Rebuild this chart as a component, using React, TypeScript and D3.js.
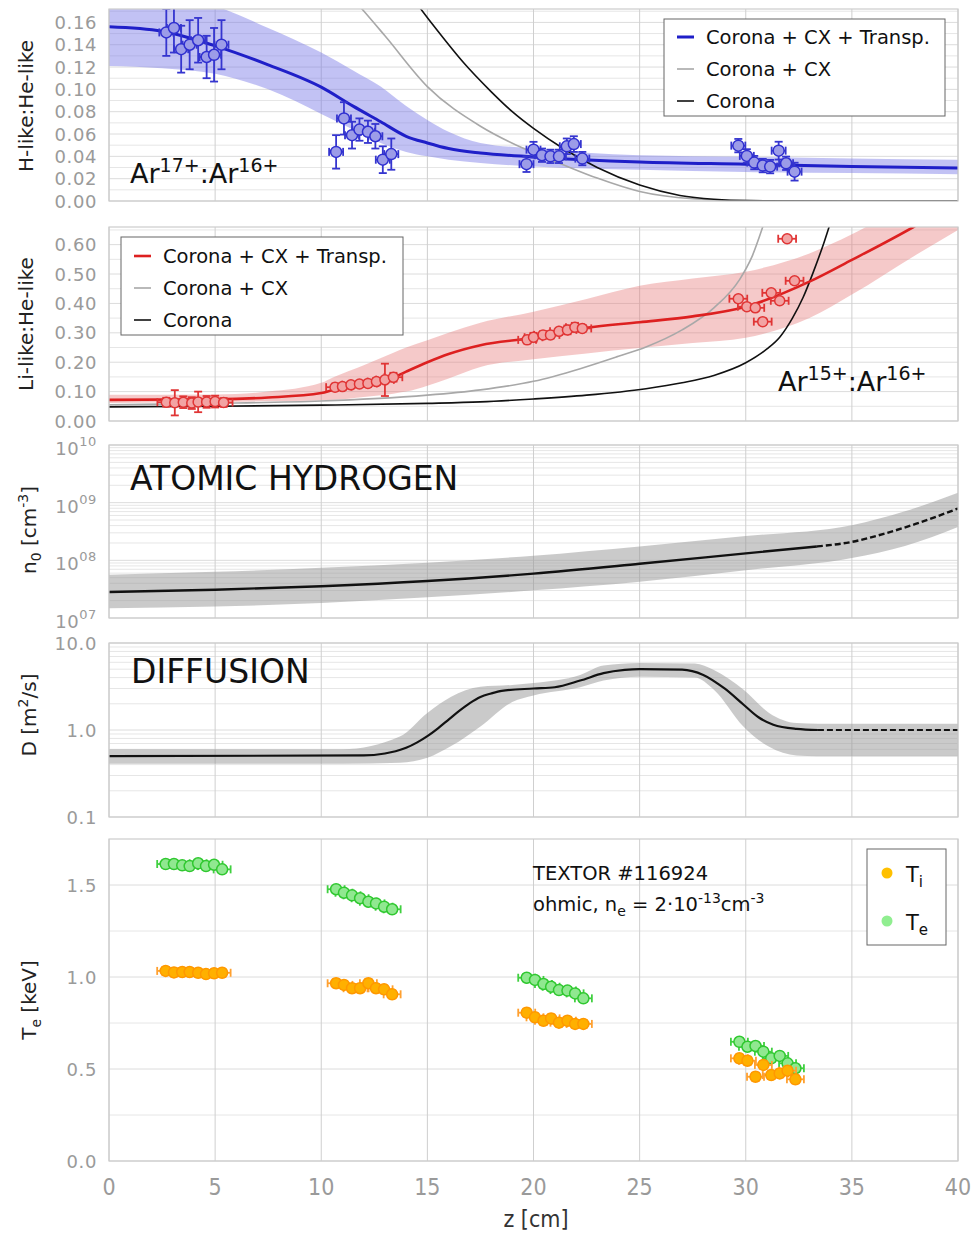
import React from "react";
import * as d3 from "d3";

// ---------------- shared x axis ----------------
const zTicks = [0, 5, 10, 15, 20, 25, 30, 35, 40];

// ---------------- panel 1: H-like : He-like ----------------
const hModelZ = [0, 2.5, 5, 7.5, 10, 11.5, 12.8, 14, 15, 16, 17.5, 20, 25, 30, 35, 40];
const hTransp = [0.156, 0.152, 0.139, 0.122, 0.102, 0.085, 0.071, 0.058, 0.052, 0.047, 0.043, 0.0395, 0.035, 0.033, 0.031, 0.0295];
const hTranspHi = [0.2, 0.19, 0.175, 0.155, 0.133, 0.117, 0.1025, 0.085, 0.0726, 0.062, 0.052, 0.047, 0.041, 0.0397, 0.038, 0.037];
const hTranspLo = [0.121, 0.119, 0.114, 0.1, 0.078, 0.064, 0.052, 0.044, 0.04, 0.037, 0.034, 0.031, 0.028, 0.026, 0.025, 0.024];
const hCxZ = [11.5, 11.92, 13, 15, 17.5, 19.2, 20.5, 21.4, 23, 25, 27.5, 30, 35, 40];
const hCx = [0.181, 0.172, 0.148, 0.1025, 0.067, 0.05, 0.0395, 0.0325, 0.0205, 0.0085, 0.002, 0.0003, 0, 0];
const hCoronaZ = [14.3, 14.65, 15.5, 16.7, 18, 19, 20, 21.4, 23, 25, 26.9, 28.5, 30, 35, 40];
const hCorona = [0.182, 0.173, 0.152, 0.124, 0.098, 0.08, 0.065, 0.047, 0.03, 0.0143, 0.005, 0.0015, 0.0003, 0, 0];
const hDataZ = [2.7, 3.06, 3.4, 3.8, 4.2, 4.6, 4.95, 5.3, 10.7, 11.07, 11.45, 11.8, 12.2, 12.55, 12.9, 13.3, 19.67, 20.0, 20.4, 20.8, 21.2, 21.57, 21.9, 22.3, 29.65, 30.05, 30.4, 30.8, 31.15, 31.55, 31.9, 32.3];
const hDataV = [0.151, 0.155, 0.136, 0.14, 0.144, 0.129, 0.131, 0.14, 0.044, 0.074, 0.059, 0.064, 0.062, 0.058, 0.037, 0.042, 0.033, 0.046, 0.041, 0.04, 0.04, 0.049, 0.051, 0.038, 0.0496, 0.0404, 0.0344, 0.0317, 0.0308, 0.0451, 0.0338, 0.0263];
const hDataErr = [0.021, 0.022, 0.021, 0.022, 0.02, 0.019, 0.024, 0.022, 0.015, 0.0145, 0.012, 0.01, 0.01, 0.011, 0.012, 0.014, 0.007, 0.007, 0.006, 0.006, 0.006, 0.007, 0.007, 0.006, 0.006, 0.006, 0.006, 0.006, 0.006, 0.008, 0.006, 0.008];
const hTicks = [0, 0.02, 0.04, 0.06, 0.08, 0.1, 0.12, 0.14, 0.16];
const hMinor = [0.01, 0.03, 0.05, 0.07, 0.09, 0.11, 0.13, 0.15, 0.17];

// ---------------- panel 2: Li-like : He-like ----------------
const lModelZ = [0, 5, 7.5, 10, 10.6, 12, 13.4, 14, 15, 16, 17.5, 20, 22.5, 25, 27.5, 30, 33, 35, 37.9, 40];
const lTransp = [0.072, 0.074, 0.08, 0.095, 0.106, 0.12, 0.148, 0.168, 0.2, 0.228, 0.258, 0.283, 0.317, 0.336, 0.356, 0.389, 0.474, 0.548, 0.66, 0.75];
const lTranspHi = [0.089, 0.09, 0.1, 0.13, 0.15, 0.19, 0.232, 0.25, 0.275, 0.3, 0.334, 0.372, 0.415, 0.46, 0.485, 0.508, 0.57, 0.635, 0.75, 0.82];
const lTranspLo = [0.061, 0.065, 0.067, 0.07, 0.072, 0.082, 0.093, 0.1, 0.12, 0.145, 0.184, 0.21, 0.23, 0.248, 0.265, 0.283, 0.35, 0.43, 0.56, 0.65];
const lCxZ = [0, 5, 10, 12.5, 15, 17.5, 20, 22.2, 24, 25.3, 27, 28.5, 29.7, 30.3, 30.8, 31.2];
const lCx = [0.055, 0.06, 0.068, 0.076, 0.088, 0.106, 0.135, 0.178, 0.22, 0.252, 0.31, 0.385, 0.48, 0.56, 0.66, 0.75];
const lCoronaZ = [0, 5, 10, 15, 17.5, 20, 22.5, 25.3, 27, 28.5, 30, 31, 31.6, 32.2, 32.7, 33.2, 33.7, 34.1];
const lCorona = [0.048, 0.05, 0.054, 0.06, 0.065, 0.075, 0.088, 0.11, 0.13, 0.155, 0.198, 0.245, 0.285, 0.35, 0.42, 0.51, 0.61, 0.7];
const lDataZ = [2.7, 3.1, 3.5, 3.9, 4.2, 4.6, 5.0, 5.4, 10.65, 11.0, 11.4, 11.8, 12.2, 12.6, 13.0, 13.4, 19.7, 20.0, 20.45, 20.8, 21.2, 21.6, 21.95, 22.3, 29.65, 30.05, 30.45, 30.8, 31.2, 31.6, 31.95, 32.3];
const lDataV = [0.064, 0.062, 0.064, 0.061, 0.065, 0.065, 0.066, 0.063, 0.115, 0.117, 0.123, 0.126, 0.128, 0.134, 0.14, 0.149, 0.276, 0.285, 0.293, 0.293, 0.305, 0.31, 0.319, 0.315, 0.416, 0.389, 0.385, 0.338, 0.436, 0.409, 0.62, 0.477];
const lDataErr = [0.015, 0.043, 0.02, 0.02, 0.035, 0.02, 0.02, 0.015, 0.012, 0.01, 0.01, 0.01, 0.012, 0.012, 0.055, 0.015, 0.012, 0.015, 0.012, 0.012, 0.012, 0.015, 0.015, 0.012, 0.01, 0.01, 0.01, 0.01, 0.01, 0.01, 0.01, 0.01];
const lTicks = [0, 0.1, 0.2, 0.3, 0.4, 0.5, 0.6];
const lMinor = [0.05, 0.15, 0.25, 0.35, 0.45, 0.55, 0.65];

// ---------------- panel 3: atomic hydrogen n0 ----------------
const nZ = [0, 5, 10, 15, 20, 25, 30, 33.35];
const nSolid = [2.82e7, 3.09e7, 3.55e7, 4.37e7, 5.89e7, 8.71e7, 1.32e8, 1.74e8];
const nDashZ = [33.35, 35, 36.5, 38, 39, 40];
const nDash = [1.74e8, 2.09e8, 2.88e8, 4.27e8, 5.75e8, 7.94e8];
const nBandZ = [0, 5, 10, 15, 20, 25, 30, 35, 37.5, 40];
const nBandHi = [5.62e7, 6.31e7, 7.41e7, 9.12e7, 1.2e8, 1.74e8, 2.63e8, 4.07e8, 7.08e8, 1.48e9];
const nBandLo = [1.48e7, 1.58e7, 1.82e7, 2.29e7, 3.02e7, 4.27e7, 6.76e7, 1.1e8, 1.78e8, 3.8e8];
const nTicks = [1e7, 1e8, 1e9, 1e10];
const nTickExp = ["07", "08", "09", "10"];

// ---------------- panel 4: diffusion D ----------------
const dZ = [0, 12, 13, 13.5, 14, 14.5, 15, 15.5, 16, 16.5, 17, 17.5, 18, 18.5, 20, 21, 22.2, 23.3, 24.3, 25, 27, 28, 29, 29.9, 30.6, 31.3, 32.4, 33.4];
const dSolid = [0.5, 0.51, 0.537, 0.569, 0.624, 0.716, 0.851, 1.047, 1.318, 1.66, 2.04, 2.4, 2.63, 2.82, 3.0, 3.1, 3.7, 4.5, 4.9, 5.0, 4.95, 4.3, 3.0, 1.95, 1.4, 1.15, 1.03, 1.0];
const dDashZ = [33.4, 40];
const dDash = [1.0, 1.0];
const dBandZ = [0, 11, 13.7, 15, 16.1, 17.5, 19, 20, 22.2, 23.3, 25, 27.6, 28.5, 29.9, 31.1, 32.4, 33.4, 40];
const dBandHi = [0.6, 0.6, 0.84, 1.57, 2.4, 3.14, 3.3, 3.47, 4.3, 5.5, 5.9, 5.8, 4.9, 2.9, 1.57, 1.2, 1.18, 1.18];
const dBandLo = [0.41, 0.41, 0.42, 0.48, 0.65, 1.1, 2.1, 2.5, 3.1, 3.7, 4.1, 4.0, 2.9, 1.09, 0.64, 0.51, 0.5, 0.5];
const dTicks = [0.1, 1, 10];
const dTickLabels = ["0.1", "1.0", "10.0"];

// ---------------- panel 5: temperatures ----------------
const tZ = [2.67, 3.06, 3.45, 3.8, 4.2, 4.57, 4.95, 5.33, 10.7, 11.07, 11.45, 11.83, 12.22, 12.58, 12.96, 13.34, 19.68, 20.07, 20.47, 20.83, 21.2, 21.6, 21.96, 22.35, 29.7, 30.08, 30.46, 30.83, 31.2, 31.6, 31.97, 32.34];
const teV = [1.614, 1.614, 1.607, 1.603, 1.618, 1.603, 1.61, 1.585, 1.477, 1.458, 1.444, 1.428, 1.409, 1.4, 1.382, 1.368, 0.996, 0.984, 0.962, 0.947, 0.929, 0.926, 0.911, 0.884, 0.648, 0.621, 0.625, 0.594, 0.558, 0.571, 0.531, 0.504];
const tiV = [1.033, 1.025, 1.027, 1.027, 1.023, 1.016, 1.02, 1.023, 0.966, 0.957, 0.939, 0.939, 0.966, 0.939, 0.933, 0.906, 0.806, 0.781, 0.762, 0.775, 0.752, 0.762, 0.745, 0.745, 0.558, 0.545, 0.458, 0.522, 0.467, 0.476, 0.491, 0.444];
const tTicks = [0, 0.5, 1.0, 1.5];
const tMinor = [0.25, 0.75, 1.25];

const LEFT = 109;
const RIGHT = 958;
const FONT = "'DejaVu Sans', Verdana, sans-serif";
const NARROW = "'Liberation Sans Narrow', 'DejaVu Sans Condensed', sans-serif";
const TICK_COLOR = "#9a9a9a";

const x = d3.scaleLinear().domain([0, 40]).range([LEFT, RIGHT]);

function linePath(zs: number[], vs: number[], y: any) {
  return d3
    .line<number>()
    .x((_, i) => x(zs[i]))
    .y((d) => y(d))
    .curve(d3.curveMonotoneX)(vs) as string;
}
function areaPath(zs: number[], lo: number[], hi: number[], y: any) {
  return d3
    .area<number>()
    .x((_, i) => x(zs[i]))
    .y0((_, i) => y(lo[i]))
    .y1((d) => y(d))
    .curve(d3.curveMonotoneX)(hi) as string;
}

function logMinor(lo: number, hi: number) {
  const out: number[] = [];
  for (let e = Math.log10(lo); e < Math.log10(hi); e++) {
    for (let k = 2; k <= 9; k++) out.push(k * Math.pow(10, e));
  }
  return out;
}

function Frame({ id, y, top, bottom, major, minor }: any) {
  return (
    <g>
      <defs>
        <clipPath id={id}>
          <rect x={LEFT} y={top} width={RIGHT - LEFT} height={bottom - top} />
        </clipPath>
      </defs>
      <rect x={LEFT} y={top} width={RIGHT - LEFT} height={bottom - top} fill="#fff" />
      {minor.map((v: number, i: number) => (
        <line key={"mi" + i} x1={LEFT} x2={RIGHT} y1={y(v)} y2={y(v)} stroke="#e6e6e6" strokeWidth={1} />
      ))}
      {major.map((v: number, i: number) => (
        <line key={"ma" + i} x1={LEFT} x2={RIGHT} y1={y(v)} y2={y(v)} stroke="#dcdcdc" strokeWidth={1} />
      ))}
      {zTicks.map((z) => (
        <line key={"v" + z} x1={x(z)} x2={x(z)} y1={top} y2={bottom} stroke="#cfcfcf" strokeWidth={1} />
      ))}
    </g>
  );
}

function Border({ top, bottom }: any) {
  return <rect x={LEFT} y={top} width={RIGHT - LEFT} height={bottom - top} fill="none" stroke="#cccccc" strokeWidth={1.2} />;
}

function Points({ zs, vs, ey, ex, y, fill, stroke, bar, r }: any) {
  return (
    <g>
      {zs.map((z: number, i: number) => {
        const cx = x(z);
        const cy = y(vs[i]);
        const yT = y(vs[i] + ey[i]);
        const yB = y(vs[i] - ey[i]);
        const xL = x(z - ex);
        const xR = x(z + ex);
        return (
          <g key={i}>
            <line x1={cx} x2={cx} y1={yT} y2={yB} stroke={bar} strokeWidth={1.8} />
            <line x1={cx - 4} x2={cx + 4} y1={yT} y2={yT} stroke={bar} strokeWidth={1.8} />
            <line x1={cx - 4} x2={cx + 4} y1={yB} y2={yB} stroke={bar} strokeWidth={1.8} />
            <line x1={xL} x2={xR} y1={cy} y2={cy} stroke={bar} strokeWidth={1.8} />
            <line x1={xL} x2={xL} y1={cy - 4} y2={cy + 4} stroke={bar} strokeWidth={1.8} />
            <line x1={xR} x2={xR} y1={cy - 4} y2={cy + 4} stroke={bar} strokeWidth={1.8} />
          </g>
        );
      })}
      {zs.map((z: number, i: number) => (
        <circle key={"c" + i} cx={x(z)} cy={y(vs[i])} r={r} fill={fill} stroke={stroke} strokeWidth={1.5} />
      ))}
    </g>
  );
}

function YLabels({ y, ticks, fmt }: any) {
  return (
    <g fontFamily={FONT} fontSize={18} fill={TICK_COLOR} textAnchor="end" letterSpacing={0.6}>
      {ticks.map((v: number, i: number) => (
        <text key={i} x={LEFT - 12} y={y(v) + 6.5}>
          {fmt(v, i)}
        </text>
      ))}
    </g>
  );
}

function Legend({ x0, y0, w, h, rows, lx }: any) {
  return (
    <g>
      <rect x={x0} y={y0} width={w} height={h} fill="#fff" stroke="#666" strokeWidth={1} />
      {rows.map((r: any, i: number) => (
        <g key={i}>
          <line x1={lx} x2={lx + 17} y1={r.y} y2={r.y} stroke={r.color} strokeWidth={r.w} />
          <text x={lx + 29} y={r.y + 7} fontFamily={FONT} fontSize={19.5} fill="#111">
            {r.label}
          </text>
        </g>
      ))}
    </g>
  );
}

export default function App() {
  const y1 = d3.scaleLinear().domain([0, 0.172]).range([201, 9]);
  const y2 = d3.scaleLinear().domain([0, 0.66]).range([421, 227]);
  const y3 = d3.scaleLog().domain([1e7, 1e10]).range([618, 445]);
  const y4 = d3.scaleLog().domain([0.1, 10]).range([817, 643]);
  const y5 = d3.scaleLinear().domain([0, 1.75]).range([1161, 839]);

  const blueBand = "rgba(120,120,230,0.45)";
  const redBand = "rgba(230,120,120,0.4)";

  return (
    <svg width={971} height={1235} style={{ position: "absolute", left: 0, top: 0, background: "#fff" }}>
      {/* ============ Panel 1 ============ */}
      <Frame id="c1" y={y1} top={9} bottom={201} major={hTicks} minor={hMinor} />
      <g clipPath="url(#c1)">
        <path d={areaPath(hModelZ, hTranspLo, hTranspHi, y1)} fill={blueBand} />
        <path d={linePath(hCxZ, hCx, y1)} fill="none" stroke="#a8a8a8" strokeWidth={1.6} />
        <path d={linePath(hCoronaZ, hCorona, y1)} fill="none" stroke="#111" strokeWidth={1.6} />
        <path d={linePath(hModelZ, hTransp, y1)} fill="none" stroke="#1f1fc8" strokeWidth={3} />
        <Points zs={hDataZ} vs={hDataV} ey={hDataErr} ex={0.33} y={y1} fill="#9c9ce8" stroke="#3030d0" bar="#3535cf" r={5.5} />
      </g>
      <Border top={9} bottom={201} />
      <YLabels y={y1} ticks={hTicks} fmt={(v: number) => v.toFixed(2)} />
      <Legend
        x0={664}
        y0={19}
        w={281}
        h={97}
        lx={677}
        rows={[
          { y: 37, color: "#1f1fc8", w: 3, label: "Corona + CX + Transp." },
          { y: 69, color: "#a8a8a8", w: 1.6, label: "Corona + CX" },
          { y: 101, color: "#111", w: 1.6, label: "Corona" },
        ]}
      />
      <text x={130} y={183} fontFamily={FONT} fontSize={27} fill="#111">
        Ar<tspan fontSize={19} dy={-11}>17+</tspan>
        <tspan dy={11}>:Ar</tspan>
        <tspan fontSize={19} dy={-11}>16+</tspan>
      </text>
      <text transform="translate(33,106) rotate(-90)" textAnchor="middle" fontFamily={FONT} fontSize={20} fill="#222">
        H-like:He-like
      </text>

      {/* ============ Panel 2 ============ */}
      <Frame id="c2" y={y2} top={227} bottom={421} major={lTicks} minor={lMinor} />
      <g clipPath="url(#c2)">
        <path d={areaPath(lModelZ, lTranspLo, lTranspHi, y2)} fill={redBand} />
        <path d={linePath(lCxZ, lCx, y2)} fill="none" stroke="#a8a8a8" strokeWidth={1.6} />
        <path d={linePath(lCoronaZ, lCorona, y2)} fill="none" stroke="#111" strokeWidth={1.6} />
        <path d={linePath(lModelZ, lTransp, y2)} fill="none" stroke="#dd2020" strokeWidth={2.6} />
        <Points zs={lDataZ} vs={lDataV} ey={lDataErr} ex={0.42} y={y2} fill="#f2a3a3" stroke="#e03535" bar="#e03535" r={5} />
      </g>
      <Border top={227} bottom={421} />
      <YLabels y={y2} ticks={lTicks} fmt={(v: number) => v.toFixed(2)} />
      <Legend
        x0={121}
        y0={237}
        w={282}
        h={98}
        lx={134}
        rows={[
          { y: 256, color: "#dd2020", w: 2.6, label: "Corona + CX + Transp." },
          { y: 288, color: "#a8a8a8", w: 1.6, label: "Corona + CX" },
          { y: 320, color: "#111", w: 1.6, label: "Corona" },
        ]}
      />
      <text x={778} y={391} fontFamily={FONT} fontSize={27} fill="#111">
        Ar<tspan fontSize={19} dy={-11}>15+</tspan>
        <tspan dy={11}>:Ar</tspan>
        <tspan fontSize={19} dy={-11}>16+</tspan>
      </text>
      <text transform="translate(33,324) rotate(-90)" textAnchor="middle" fontFamily={FONT} fontSize={20} fill="#222">
        Li-like:He-like
      </text>

      {/* ============ Panel 3 ============ */}
      <Frame id="c3" y={y3} top={445} bottom={618} major={nTicks} minor={logMinor(1e7, 1e10)} />
      <g clipPath="url(#c3)">
        <path d={areaPath(nBandZ, nBandLo, nBandHi, y3)} fill="rgba(150,150,150,0.5)" />
        <path d={linePath(nZ, nSolid, y3)} fill="none" stroke="#111" strokeWidth={2.4} />
        <path d={linePath(nDashZ, nDash, y3)} fill="none" stroke="#111" strokeWidth={2.4} strokeDasharray="6,3" />
      </g>
      <Border top={445} bottom={618} />
      <g fontFamily={FONT} fontSize={18} fill={TICK_COLOR} textAnchor="end" letterSpacing={0.6}>
        {nTicks.map((v, i) => (
          <text key={i} x={LEFT - 12} y={y3(v) + 10}>
            10<tspan fontSize={13} dy={-9}>{nTickExp[i]}</tspan>
          </text>
        ))}
      </g>
      <text x={130} y={490} fontFamily={FONT} fontSize={33} fill="#111">
        ATOMIC HYDROGEN
      </text>
      <text transform="translate(36,530) rotate(-90)" textAnchor="middle" fontFamily={FONT} fontSize={20} fill="#222">
        n<tspan fontSize={14} dy={5}>0</tspan>
        <tspan dy={-5}>{"  [cm"}</tspan>
        <tspan fontSize={14} dy={-8}>-3</tspan>
        <tspan dy={8}>]</tspan>
      </text>

      {/* ============ Panel 4 ============ */}
      <Frame id="c4" y={y4} top={643} bottom={817} major={dTicks} minor={logMinor(0.1, 10)} />
      <g clipPath="url(#c4)">
        <path d={areaPath(dBandZ, dBandLo, dBandHi, y4)} fill="rgba(150,150,150,0.5)" />
        <path d={linePath(dZ, dSolid, y4)} fill="none" stroke="#111" strokeWidth={2.2} />
        <path d={linePath(dDashZ, dDash, y4)} fill="none" stroke="#111" strokeWidth={2.2} strokeDasharray="6,3" />
      </g>
      <Border top={643} bottom={817} />
      <YLabels y={y4} ticks={dTicks} fmt={(_: number, i: number) => dTickLabels[i]} />
      <text x={131} y={683} fontFamily={FONT} fontSize={33} fill="#111">
        DIFFUSION
      </text>
      <text transform="translate(36,715) rotate(-90)" textAnchor="middle" fontFamily={FONT} fontSize={20} fill="#222">
        {"D  [m"}
        <tspan fontSize={14} dy={-8}>2</tspan>
        <tspan dy={8}>/s]</tspan>
      </text>

      {/* ============ Panel 5 ============ */}
      <Frame id="c5" y={y5} top={839} bottom={1161} major={tTicks} minor={tMinor} />
      <g clipPath="url(#c5)">
        <Points zs={tZ} vs={teV} ey={tZ.map(() => 0.018)} ex={0.4} y={y5} fill="#90e890" stroke="#30c830" bar="#40d040" r={5.5} />
        <Points zs={tZ} vs={tiV} ey={tZ.map(() => 0.022)} ex={0.4} y={y5} fill="#ffb000" stroke="#ff9800" bar="#ffa030" r={5.5} />
      </g>
      <Border top={839} bottom={1161} />
      <YLabels y={y5} ticks={tTicks} fmt={(v: number) => v.toFixed(1)} />
      <text x={533} y={880} fontFamily={FONT} fontSize={19.5} fill="#111">
        TEXTOR #116924
      </text>
      <text x={533} y={911} fontFamily={FONT} fontSize={19.5} fill="#111">
        ohmic, n<tspan fontSize={14} dy={5}>e</tspan>
        <tspan dy={-5}>{" = 2·10"}</tspan>
        <tspan fontSize={14} dy={-8}>-13</tspan>
        <tspan dy={8}>cm</tspan>
        <tspan fontSize={14} dy={-8}>-3</tspan>
      </text>
      <rect x={867} y={849} width={79} height={96} fill="#fff" stroke="#666" strokeWidth={1} />
      <circle cx={887} cy={873} r={5.5} fill="#ffc000" />
      <text x={906} y={882} fontFamily={FONT} fontSize={21} fill="#111">
        T<tspan fontSize={15} dy={5}>i</tspan>
      </text>
      <circle cx={887} cy={921} r={5.5} fill="#90ee90" />
      <text x={906} y={930} fontFamily={FONT} fontSize={21} fill="#111">
        T<tspan fontSize={15} dy={5}>e</tspan>
      </text>
      <text transform="translate(36,1000) rotate(-90)" textAnchor="middle" fontFamily={FONT} fontSize={20} fill="#222">
        T<tspan fontSize={14} dy={5}>e</tspan>
        <tspan dy={-5}> [keV]</tspan>
      </text>

      {/* ============ X axis ============ */}
      <g fontFamily={NARROW} fontSize={23} fill={TICK_COLOR} textAnchor="middle">
        {zTicks.map((z) => (
          <text key={z} x={x(z)} y={1195}>
            {z}
          </text>
        ))}
      </g>
      <text x={536} y={1227} textAnchor="middle" fontFamily={NARROW} fontSize={23} fill="#333">
        {"z  [cm]"}
      </text>
    </svg>
  );
}
